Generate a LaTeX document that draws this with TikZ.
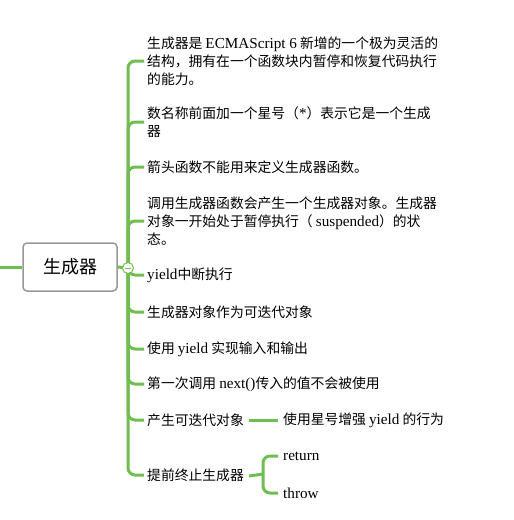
\documentclass[tikz,border=0pt]{standalone}
\usepackage{fontspec}
\setmainfont{Liberation Serif}[Scale=1.1]
\newfontfamily\cjk{Noto Sans CJK SC}
\usepackage{tikz}
\usetikzlibrary{calc,backgrounds}
\definecolor{leaf}{RGB}{112,190,80}
\newcommand{\lat}[1]{{\rmfamily #1}}

\tikzset{
  branch/.style={draw=leaf, line width=3pt, rounded corners=7pt},
  topic/.style={anchor=west, inner sep=0pt, align=left,
    font=\fontsize{13.8}{18}\selectfont\cjk},
  rootbox/.style={draw=black!40, line width=1.5pt, rounded corners=4pt,
    minimum width=94pt, minimum height=48pt, fill=white,
    font=\fontsize{18}{22}\selectfont\cjk}
}

\begin{document}
\begin{tikzpicture}[x=1pt,y=-1pt]
\useasboundingbox (0,0) rectangle (514,520);

% central topic
\node[rootbox] (root) at (70,267) {生成器};
\coordinate (hub) at (128,268);
\coordinate (edge) at (0,267);

% first level topics
\node[topic] (b1) at (147,61) {生成器是 \lat{ECMAScript 6} 新增的一个极为灵活的\\结构，拥有在一个函数块内暂停和恢复代码执行\\的能力。};
\node[topic] (b2) at (147,122) {数名称前面加一个星号（\lat{*}）表示它是一个生成\\器};
\node[topic] (b3) at (147,167) {箭头函数不能用来定义生成器函数。};
\node[topic] (b4) at (147,221) {调用生成器函数会产生一个生成器对象。生成器\\对象一开始处于暂停执行（ \lat{suspended}）的状\\态。};
\node[topic] (b5) at (147,275) {\lat{yield}中断执行};
\node[topic] (b6) at (147,312) {生成器对象作为可迭代对象};
\node[topic] (b7) at (147,349) {使用 \lat{yield} 实现输入和输出};
\node[topic] (b8) at (147,384) {第一次调用 \lat{next()}传入的值不会被使用};
\node[topic] (b9) at (147,420) {产生可迭代对象};
\node[topic] (b10) at (147,475) {提前终止生成器};

% second level topics
\node[topic] (b9a) at (283,420) {使用星号增强 \lat{yield} 的行为};
\node[topic,font=\fontsize{13.8}{18}\selectfont] (b10a) at (283,456) {return};
\node[topic,font=\fontsize{13.8}{18}\selectfont] (b10b) at (283,493) {throw};
\coordinate (fork) at (263,474);

% connectors
\begin{scope}[on background layer]
\fill[white] (0,0) rectangle (514,520);
\draw[branch] (edge) -- (root.west);
\draw[branch] (root.east) -- (hub);
\foreach \n in {b1,b2,b3,b4,b5,b6,b7,b8,b9,b10}
  \draw[branch] (hub) |- ([xshift=-3pt]\n.west);
\draw[branch] ([xshift=5pt]b9.east) -- ([xshift=-5pt]b9a.west);
\draw[branch] ([xshift=5pt,yshift=-1pt]b10.east) -- (fork);
\draw[branch] (fork) |- ([xshift=-5pt]b10a.west);
\draw[branch] (fork) |- ([xshift=-5pt]b10b.west);
\end{scope}

% collapse mark
\draw[leaf, line width=1pt, fill=white] (hub) circle (5.5);
\draw[leaf, line width=1pt] ($(hub)+(-3,0)$) -- ($(hub)+(3,0)$);
\end{tikzpicture}
\end{document}
